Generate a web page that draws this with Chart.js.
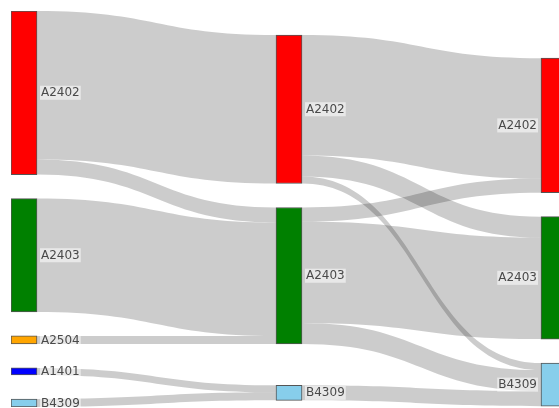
<!DOCTYPE html>
<html>
<head>
<meta charset="utf-8">
<style>
  html, body { margin: 0; padding: 0; background: #ffffff; }
  #wrap { width: 559px; height: 408px; }
</style>
</head>
<body>
<div id="wrap"><canvas id="myChart"></canvas></div>
<script src="https://cdn.jsdelivr.net/npm/chart.js@4.4.1/dist/chart.umd.min.js"></script>
<script>
// nodes of each stage (column), top to bottom
let stageNodes = [
    ["A2402", "A2403", "A2504", "A1401", "B4309"],
    ["A2402", "A2403", "B4309"],
    ["A2402", "A2403", "B4309"]
];

// flows from stage n to stage n + 1
let linkStage = [0, 0, 0, 0, 0, 0, 1, 1, 1, 1, 1, 1, 1];
let linkFrom  = ["A2402", "A2402", "A2403", "A2504", "A1401", "B4309", "A2402", "A2402", "A2402", "A2403", "A2403", "A2403", "B4309"];
let linkTo    = ["A2402", "A2403", "A2403", "A2403", "B4309", "B4309", "A2402", "A2403", "B4309", "A2402", "A2403", "B4309", "B4309"];
let linkValue = [148, 15, 113, 8, 7, 8, 120, 21, 7, 14, 101, 21, 15];

let nodeColors = {
    A2402: "#ff0000",
    A2403: "#008000",
    A2504: "#ffa500",
    A1401: "#0000ff",
    B4309: "#87ceeb"
};

const EXTENT = 396;      // height of the layout, in y-axis units
const NODE_PAD = 24;     // gap between nodes in a column
const NODE_W = 26 / 265; // node width as a part of one column step
const ITERATIONS = 52;

// ---- sankey layout (same idea as the classic d3 sankey, node order kept) ----
let nodes = [];
let columns = stageNodes.map(function(names, col) {
    return names.map(function(name) {
        let n = { name: name, col: col, sourceLinks: [], targetLinks: [], y: 0, dy: 0 };
        nodes.push(n);
        return n;
    });
});
function findNode(col, name) {
    return columns[col].find(function(n) { return n.name === name; });
}
let links = linkValue.map(function(v, i) {
    let l = {
        source: findNode(linkStage[i], linkFrom[i]),
        target: findNode(linkStage[i] + 1, linkTo[i]),
        value: v
    };
    l.source.sourceLinks.push(l);
    l.target.targetLinks.push(l);
    return l;
});
function sumValue(arr) { return arr.reduce(function(s, l) { return s + l.value; }, 0); }
nodes.forEach(function(n) {
    n.value = Math.max(sumValue(n.sourceLinks), sumValue(n.targetLinks));
});
function center(n) { return n.y + n.dy / 2; }

let ky = Math.min.apply(null, columns.map(function(c) {
    return (EXTENT - (c.length - 1) * NODE_PAD) / c.reduce(function(s, n) { return s + n.value; }, 0);
}));
columns.forEach(function(c) {
    c.forEach(function(n, i) { n.y = i; n.dy = n.value * ky; });
});
links.forEach(function(l) { l.dy = l.value * ky; });

function resolveCollisions() {
    columns.forEach(function(c) {
        let y0 = 0, node, dy, i;
        for (i = 0; i < c.length; i++) {
            node = c[i];
            dy = y0 - node.y;
            if (dy > 0) node.y += dy;
            y0 = node.y + node.dy + NODE_PAD;
        }
        dy = y0 - NODE_PAD - EXTENT;
        if (dy > 0) {
            y0 = node.y -= dy;
            for (i = c.length - 2; i >= 0; i--) {
                node = c[i];
                dy = node.y + node.dy + NODE_PAD - y0;
                if (dy > 0) node.y -= dy;
                y0 = node.y;
            }
        }
    });
}
function relaxLeftToRight(alpha) {
    columns.forEach(function(c) {
        c.forEach(function(n) {
            if (n.targetLinks.length) {
                let y = n.targetLinks.reduce(function(s, l) { return s + center(l.source) * l.value; }, 0) / sumValue(n.targetLinks);
                n.y += (y - center(n)) * alpha;
            }
        });
    });
}
function relaxRightToLeft(alpha) {
    columns.slice().reverse().forEach(function(c) {
        c.forEach(function(n) {
            if (n.sourceLinks.length) {
                let y = n.sourceLinks.reduce(function(s, l) { return s + center(l.target) * l.value; }, 0) / sumValue(n.sourceLinks);
                n.y += (y - center(n)) * alpha;
            }
        });
    });
}

resolveCollisions();
for (let alpha = 1, it = ITERATIONS; it > 0; --it) {
    relaxRightToLeft(alpha *= 0.99);
    resolveCollisions();
    relaxLeftToRight(alpha);
    resolveCollisions();
}

nodes.forEach(function(n) {
    n.sourceLinks.sort(function(a, b) { return a.target.y - b.target.y; });
    n.targetLinks.sort(function(a, b) { return a.source.y - b.source.y; });
    let sy = 0, ty = 0;
    n.sourceLinks.forEach(function(l) { l.sy = sy; sy += l.dy; });
    n.targetLinks.forEach(function(l) { l.ty = ty; ty += l.dy; });
});

// ---- draw links and labels on the chart scales ----
const sankeyPlugin = {
    id: "sankeyLinks",
    beforeDatasetsDraw(chart) {
        const ctx = chart.ctx;
        const xs = chart.scales.x;
        const ys = chart.scales.y;
        ctx.save();
        ctx.fillStyle = "rgba(0, 0, 0, 0.2)";
        links.forEach(function(l) {
            const x0 = xs.getPixelForValue(l.source.col + NODE_W);
            const x1 = xs.getPixelForValue(l.target.col);
            const xm = (x0 + x1) / 2;
            const a0 = ys.getPixelForValue(l.source.y + l.sy);
            const a1 = ys.getPixelForValue(l.source.y + l.sy + l.dy);
            const b0 = ys.getPixelForValue(l.target.y + l.ty);
            const b1 = ys.getPixelForValue(l.target.y + l.ty + l.dy);
            ctx.beginPath();
            ctx.moveTo(x0, a0);
            ctx.bezierCurveTo(xm, a0, xm, b0, x1, b0);
            ctx.lineTo(x1, b1);
            ctx.bezierCurveTo(xm, b1, xm, a1, x0, a1);
            ctx.closePath();
            ctx.fill();
        });
        ctx.restore();
    },
    afterDatasetsDraw(chart) {
        const ctx = chart.ctx;
        const xs = chart.scales.x;
        const ys = chart.scales.y;
        const last = stageNodes.length - 1;
        ctx.save();
        ctx.font = '12px "DejaVu Sans"';
        ctx.textBaseline = "middle";
        nodes.forEach(function(n) {
            const y = ys.getPixelForValue(center(n));
            const w = ctx.measureText(n.name).width;
            let x;
            if (n.col === last) {
                x = xs.getPixelForValue(n.col) - 4 - w;
            } else {
                x = xs.getPixelForValue(n.col + NODE_W) + 4;
            }
            ctx.fillStyle = "rgba(255, 255, 255, 0.55)";
            ctx.fillRect(x - 1, y - 7, w + 2, 14);
            ctx.fillStyle = "#4a4a4a";
            ctx.textAlign = "left";
            ctx.fillText(n.name, x, y + 0.5);
        });
        ctx.restore();
    }
};

let myChart = document.getElementById("myChart").getContext("2d");

let sankeyChart = new Chart(myChart, {
    type: "bar",
    data: {
        datasets: [{
            label: "nodes",
            data: nodes.map(function(n) {
                return { x: n.col + NODE_W / 2, y: [n.y, n.y + n.dy] };
            }),
            backgroundColor: nodes.map(function(n) { return nodeColors[n.name]; }),
            borderColor: "#555555",
            borderWidth: 1,
            borderSkipped: false,
            barThickness: 26
        }]
    },
    plugins: [sankeyPlugin],
    options: {
        responsive: true,
        maintainAspectRatio: false,
        animation: false,
        layout: {
            padding: { top: 11, bottom: 1, left: 11, right: 0 }
        },
        plugins: {
            legend: { display: false },
            tooltip: { enabled: false }
        },
        scales: {
            x: {
                type: "linear",
                display: false,
                offset: false,
                min: 0,
                max: 548 / 265
            },
            y: {
                display: false,
                reverse: true,
                min: 0,
                max: EXTENT
            }
        }
    }
});
</script>
</body>
</html>
